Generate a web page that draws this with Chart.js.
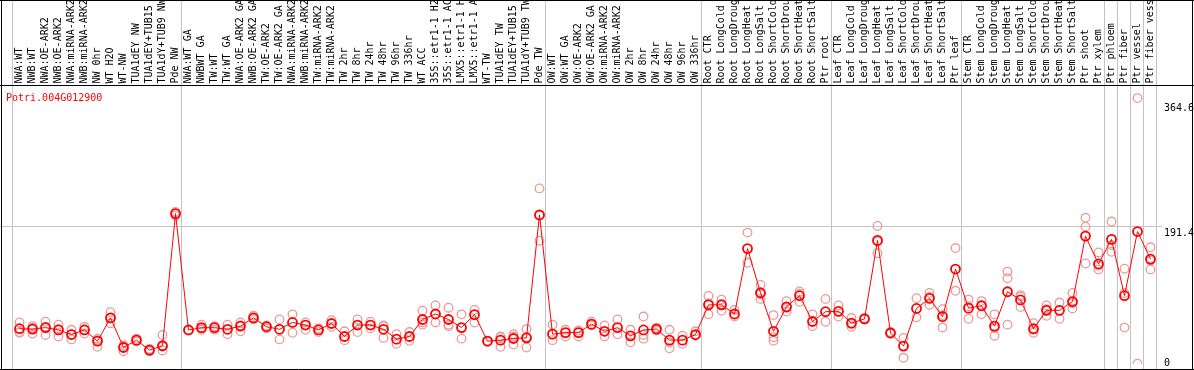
<!DOCTYPE html>
<html>
<head>
<meta charset="utf-8">
<script src="https://cdn.jsdelivr.net/npm/chart.js@4"></script>
<style>
  html, body { margin: 0; padding: 0; background: #fff; }
  #wrap { width: 1194px; height: 370px; position: relative; }
</style>
</head>
<body>
<div id="wrap"><canvas id="chart"></canvas></div>
<script>
// sample labels (columns), read left to right
const LABELS = [
  'NWA:WT','NWB:WT','NWA:OE-ARK2','NWB:OE-ARK2','NWA:miRNA-ARK2','NWB:miRNA-ARK2','NW 0hr','WT H2O','WT-NW','TUA1dEY NW','TUA1dEY+TUB15 NW','TUA1dY+TUB9 NW','Pde NW',
  'NWA:WT GA','NWBWT GA','TW:WT','TW:WT GA','NWA:OE-ARK2 GA','NWB:OE-ARK2 GA','TW:OE-ARK2','TW:OE-ARK2 GA','NWA:miRNA-ARK2','NWB:miRNA-ARK2','TW:miRNA-ARK2','TW:miRNA-ARK2',
  'TW 2hr','TW 8hr','TW 24hr','TW 48hr','TW 96hr','TW 336hr','WT ACC','35S::etr1-1 H2O','35S::etr1-1 ACC','LMX5::etr1-1 H2O','LMX5::etr1-1 ACC','WT-TW','TUA1dEY TW','TUA1dEY+TUB15 TW','TUA1dY+TUB9 TW','Pde TW',
  'OW:WT','OW:WT GA','OW:OE-ARK2','OW:OE-ARK2 GA','OW:miRNA-ARK2','OW:miRNA-ARK2','OW 2hr','OW 8hr','OW 24hr','OW 48hr','OW 96hr','OW 336hr',
  'Root CTR','Root LongCold','Root LongDrought','Root LongHeat','Root LongSalt','Root ShortCold','Root ShortDrought','Root ShortHeat','Root ShortSalt','Ptr root',
  'Leaf CTR','Leaf LongCold','Leaf LongDrought','Leaf LongHeat','Leaf LongSalt','Leaf ShortCold','Leaf ShortDrought','Leaf ShortHeat','Leaf ShortSalt','Ptr leaf',
  'Stem CTR','Stem LongCold','Stem LongDrought','Stem LongHeat','Stem LongSalt','Stem ShortCold','Stem ShortDrought','Stem ShortHeat','Stem ShortSalt','Ptr shoot','Ptr xylem',
  'Ptr phloem','Ptr fiber','Ptr vessel','Ptr fiber vessel'
];

// separator lines come after these column indices
const GROUP_ENDS = [12, 40, 52, 62, 72, 83, 84, 85, 86, 87];

const GENE = 'Potri.004G012900';
const Y_TICKS = [364.6, 191.4, 0];
const GRID_VALUE = 191.4;

// mean expression per sample
const MEANS = [
  51.5, 51, 53, 49.8, 43.6, 49.8, 34.6, 66.2, 26, 36, 22.5, 28.4, 207.8,
  49.8, 52.9, 52.9, 50.7, 55.1, 66.2, 54.2, 50.7, 60, 56.5, 49.8, 58.6,
  40.9, 56.5, 56.5, 50.7, 37.3, 40.9, 64, 71.5, 64, 53, 70.6, 34.6, 36, 38.2, 39.1, 206,
  44.1, 46.2, 46.2, 57.7, 48, 52.9, 41.8, 49.8, 51, 36, 36, 43.6,
  83.9, 83.9, 71.5, 160.3, 100.3, 48, 81.2, 96.3, 61.3, 74.6,
  75.1, 59.1, 64.8, 171.4, 45.7, 27.9, 79, 92.7, 67.9, 132.5,
  79.4, 82.6, 55, 101.7, 90.6, 51.5, 76.4, 76.4, 88.3, 177.2, 139.5,
  172.7, 96.3, 183.4, 146
];

// replicates
const REP_A = [
  60, 53, 61, 57, 50, 54, 38, 74, 29, 38, 24, 43, 210,
  50, 57, 55, 57, 60, 69, 56, 64, 71, 60, 52, 63,
  48, 64, 61, 56, 44, 47, 76, 83, 80, 71, 77, 35, 41, 44, 51, 242,
  57, 50, 49, 61, 56, 64, 50, 68, 53, 50, 42, 48,
  96, 91, 77, 182, 111, 70, 89, 102, 71, 92,
  83, 66, 66, 191, 47, 39, 93, 100, 78, 161,
  91, 89, 71, 129, 97, 59, 83, 87, 100, 202, 155,
  197, 133, 364.6, 162
];
const REP_B = [
  47, 45, 43, 41, 37, 45, 27, 59, 21, 34, 21, 22, 205,
  49, 50, 50, 44, 48, 64, 52, 37, 46, 50, 47, 54,
  36, 47, 52, 39, 31, 35, 57, 60, 55, 38, 60, 34, 27, 30, 26, 171,
  36, 41, 41, 56, 41, 44, 33, 38, 49, 25, 31, 42,
  71, 76, 68, 141, 92, 35, 75, 88, 55, 61,
  68, 54, 64, 154, 45, 12, 67, 84, 53, 103,
  65, 71, 42, 120, 81, 46, 69, 65, 79, 190, 132,
  156, 53, 4, 132
];
const REP_C = [
  46, 55, 54, 51, 44, 50, 36, 66, 27, null, null, 27, null,
  null, 52, null, null, 56, null, null, null, null, null, null, null,
  null, null, null, 55, null, null, 60, null, 57, null, null, null, 40, 41, 40, 205,
  null, null, null, null, null, null, null, 43, null, 33, null, null,
  86, 85, null, null, 98, 40, 80, 99, null, null,
  null, 58, null, 170, null, null, null, 95, 70, null,
  82, 84, 52, 57, 95, 50, 78, null, 86, 140, 137,
  165, 100, null, 144
];

const FONT = '10px "DejaVu Sans Mono", monospace';
const GRID = '#c4c4c4';

function repSet(data) {
  return {
    data, showLine: false,
    pointRadius: 4.3, pointHoverRadius: 4.3, pointBorderWidth: 1.3,
    pointBorderColor: '#eb9a9a', pointBackgroundColor: 'rgba(0,0,0,0)',
  };
}

const frame = {
  id: 'frame',
  beforeDatasetsDraw(chart) {
    const ctx = chart.ctx;
    const x = chart.scales.x, y = chart.scales.y;
    ctx.save();
    ctx.strokeStyle = GRID;
    ctx.lineWidth = 1;
    const gy = Math.round(y.getPixelForValue(GRID_VALUE)) + 0.5;
    ctx.beginPath();
    ctx.moveTo(0, gy); ctx.lineTo(1162, gy);
    const xs = [x.getPixelForValue(0) - 8];
    GROUP_ENDS.forEach(i => xs.push(x.getPixelForValue(i) + 5));
    xs.forEach(px => {
      const p = Math.round(px) + 0.5;
      ctx.moveTo(p, 0); ctx.lineTo(p, 370);
    });
    ctx.stroke();
    ctx.restore();
  },
  afterDraw(chart) {
    const ctx = chart.ctx;
    const x = chart.scales.x;
    ctx.save();
    ctx.font = FONT;
    ctx.fillStyle = '#000';
    ctx.textBaseline = 'alphabetic';
    LABELS.forEach((lab, i) => {
      ctx.save();
      ctx.translate(x.getPixelForValue(i) + 2.5, 83.5);
      ctx.rotate(-Math.PI / 2);
      ctx.fillText(lab, 0, 0);
      ctx.restore();
    });
    // y labels on the right
    ctx.fillText(Y_TICKS[0], 1164, 111);
    ctx.fillText(Y_TICKS[1], 1164, 236);
    ctx.fillText(Y_TICKS[2], 1164, 365.5);
    ctx.fillStyle = '#ff0000';
    ctx.fillText(GENE, 6, 101);
    // black frame
    ctx.strokeStyle = '#000';
    ctx.lineWidth = 1;
    ctx.beginPath();
    ctx.moveTo(0, 85.5); ctx.lineTo(1194, 85.5);
    ctx.moveTo(0, 0.5); ctx.lineTo(1194, 0.5);
    ctx.moveTo(0, 369.5); ctx.lineTo(1194, 369.5);
    ctx.moveTo(1.5, 0); ctx.lineTo(1.5, 370);
    ctx.moveTo(1192.5, 0); ctx.lineTo(1192.5, 370);
    ctx.stroke();
    ctx.restore();
  },
};

new Chart(document.getElementById('chart'), {
  type: 'line',
  data: {
    labels: LABELS,
    datasets: [
      {
        data: MEANS, borderColor: '#ff0000', borderWidth: 1,
        pointRadius: 4.5, pointHoverRadius: 4.5, pointBorderWidth: 1.8,
        pointBorderColor: '#ff0000', pointBackgroundColor: 'rgba(0,0,0,0)',
        tension: 0,
      },
      repSet(REP_A), repSet(REP_B), repSet(REP_C),
    ],
  },
  options: {
    responsive: true,
    maintainAspectRatio: false,
    animation: false,
    events: [],
    layout: { padding: { left: 13, right: 37, top: 86, bottom: 1 } },
    plugins: { legend: { display: false }, tooltip: { enabled: false } },
    scales: {
      x: { display: false, offset: true },
      y: { display: false, min: 4, max: 381 },
    },
  },
  plugins: [frame],
});
</script>
</body>
</html>
